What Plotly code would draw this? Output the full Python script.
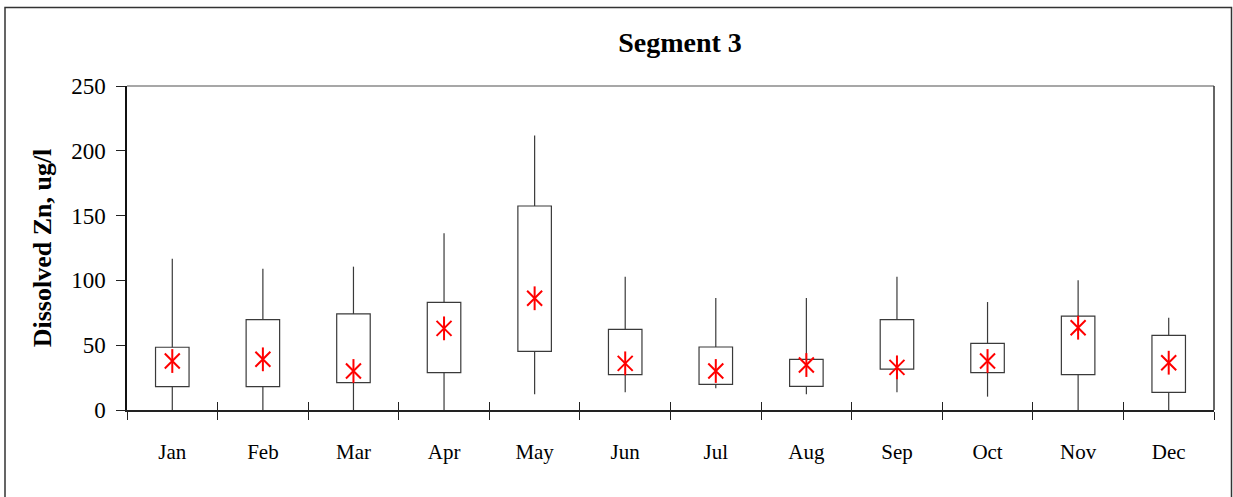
import plotly.graph_objects as go

months = ["Jan", "Feb", "Mar", "Apr", "May", "Jun", "Jul", "Aug", "Sep", "Oct", "Nov", "Dec"]
upper = [116.7, 109.0, 110.6, 136.3, 211.9, 102.9, 86.4, 86.4, 102.9, 83.3, 100.1, 71.2]
q3 = [48.4, 69.7, 74.1, 83.1, 157.4, 62.2, 48.6, 39.1, 69.7, 51.4, 72.5, 57.6]
q1 = [18.0, 18.0, 21.1, 28.8, 45.3, 27.3, 19.8, 18.2, 31.6, 28.8, 27.3, 13.6]
lower = [0.0, 0.0, 0.0, 0.0, 12.1, 13.6, 16.7, 12.1, 13.6, 10.3, 0.0, 0.0]
mean = [37.8, 39.1, 30.1, 63.0, 86.2, 36.0, 30.1, 34.7, 32.9, 37.8, 63.5, 36.5]
y_ticks = [0, 50, 100, 150, 200, 250]

FONT = "Liberation Serif"
DARK = "#222222"
BOXLINE = "#3a3a3a"

# whisker segments (upper: q3 -> max, lower: min -> q1)
wx, wy = [], []
for m, lo, a, b, hi in zip(months, lower, q1, q3, upper):
    wx += [m, m, None, m, m, None]
    wy += [b, hi, None, lo, a, None]

fig = go.Figure()
fig.add_trace(go.Scatter(
    x=wx, y=wy, mode="lines", showlegend=False, hoverinfo="skip",
    line=dict(color=BOXLINE, width=1.2), connectgaps=False,
))
fig.add_trace(go.Bar(
    x=months, y=[b - a for a, b in zip(q1, q3)], base=q1, width=0.37,
    marker=dict(color="white", line=dict(color=BOXLINE, width=1.2)), showlegend=False,
))
fig.add_trace(go.Scatter(
    x=months, y=mean, mode="markers", showlegend=False,
    marker=dict(symbol="x-thin-open", size=15, color="red", line=dict(color="red", width=2)),
))
fig.add_trace(go.Scatter(
    x=months, y=mean, mode="markers", showlegend=False,
    marker=dict(symbol="line-ns-open", size=17, color="red", line=dict(color="red", width=2)),
))
# dummy trace to register the overlay axis carrying the inner half of boundary ticks
fig.add_trace(go.Scatter(x=[0], y=[None], xaxis="x2", showlegend=False, hoverinfo="skip"))

n = len(months)
fig.update_layout(
    width=1233, height=497,
    margin=dict(l=127, r=19, t=86, b=87),
    paper_bgcolor="white", plot_bgcolor="white",
    font=dict(family=FONT, color="black", size=21),
    title=dict(text="<b>Segment 3</b>", x=0.5087, xref="paper", xanchor="center",
               y=1 - 42 / 497, yref="container", yanchor="middle",
               font=dict(family=FONT, size=28, color="black")),
    xaxis=dict(
        type="category", categoryorder="array", categoryarray=months,
        range=[-0.5, n - 0.5], showline=True, linecolor=DARK, linewidth=1.5,
        ticks="outside", tickson="boundaries", ticklen=8, tickcolor=DARK, tickwidth=1.3,
        ticklabelstandoff=22, showgrid=False, zeroline=False,
        tickfont=dict(family=FONT, size=21, color="black"),
    ),
    xaxis2=dict(
        overlaying="x", anchor="y", range=[-0.5, n - 0.5],
        tickvals=[i + 0.5 for i in range(n)], ticks="inside", ticklen=8,
        tickcolor=DARK, tickwidth=1.3, showticklabels=False, showline=False,
        showgrid=False, zeroline=False,
    ),
    yaxis=dict(
        range=[0, 250], tickvals=y_ticks, showline=True, linecolor="#111111", linewidth=1.5,
        ticks="outside", ticklen=9, tickcolor=DARK, tickwidth=1.3, showgrid=False,
        zeroline=False, ticklabelstandoff=6,
        tickfont=dict(family=FONT, size=23, color="black"),
        title=dict(text="<b>Dissolved Zn, ug/l</b>", standoff=12,
                   font=dict(family=FONT, size=26, color="black")),
    ),
    shapes=[
        dict(type="line", xref="paper", yref="paper", x0=0, x1=1, y0=1, y1=1,
             line=dict(color="#8a8a8a", width=1.5)),
        dict(type="line", xref="paper", yref="paper", x0=1, x1=1, y0=0, y1=1,
             line=dict(color="#333333", width=1.5)),
        dict(type="rect", xref="paper", yref="paper",
             x0=(5 - 127) / 1087, x1=(1231.5 - 127) / 1087,
             y0=-0.4, y1=1 + (86 - 7.5) / 324,
             line=dict(color="#333333", width=1.5), fillcolor="rgba(0,0,0,0)", layer="below"),
    ],
)

fig.write_html("out.html")
